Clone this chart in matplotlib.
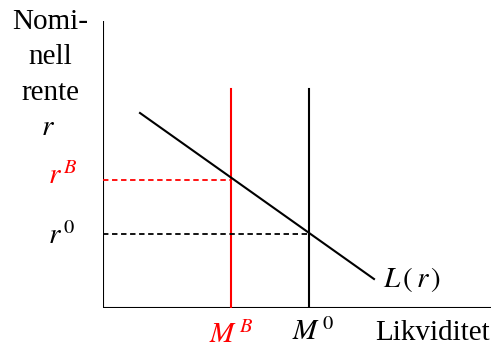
import matplotlib.pyplot as plt

plt.rcParams['font.family'] = ['Liberation Serif', 'DejaVu Serif']
plt.rcParams['mathtext.fontset'] = 'stix'

# positions in diagram units (origin at the axes corner, y upwards)
x_max, y_max = 388, 287
m_b, m_0 = 128, 206          # money supply before / after
r_b, r_0 = 128, 74           # interest rates
L_x = [37, 271]              # liquidity demand curve L(r)
L_y = [195, 29]
supply_top = 219

fig = plt.figure(figsize=(4.94, 3.49), dpi=100)
ax = fig.add_axes([103/494, 41/349, 1 - 103/494, 1 - 41/349])
ax.set_xlim(0, 391)
ax.set_ylim(0, 308)
ax.axis('off')

# axes
ax.plot([0, 0], [0, y_max], color='black', lw=1.5, solid_capstyle='butt')
ax.plot([0, x_max], [0, 0], color='black', lw=1.5, solid_capstyle='butt')

# money supply lines
ax.plot([m_b, m_b], [0, supply_top], color='red', lw=1.5)
ax.plot([m_0, m_0], [0, supply_top], color='black', lw=1.5)

# demand curve
ax.plot(L_x, L_y, color='black', lw=1.5)

# dashed guides
ax.plot([0, m_b], [r_b, r_b], color='red', lw=1.3, ls=(0, (3, 2)))
ax.plot([0, m_0], [r_0, r_0], color='black', lw=1.3, ls=(0, (3, 2)))

fs = 21
ax.text(-53, 286, 'Nomi-', fontsize=fs, ha='center', va='center', clip_on=False)
ax.text(-53, 251, 'nell', fontsize=fs, ha='center', va='center', clip_on=False)
ax.text(-53, 215, 'rente', fontsize=fs, ha='center', va='center', clip_on=False)
ax.text(-55, 180, r'$r$', fontsize=fs, ha='center', va='center', clip_on=False)

ax.text(-25, r_b + 4, r'$r^{\,B}$', fontsize=fs, color='red', ha='right', va='center', clip_on=False)
ax.text(-28, r_0 - 2, r'$r^{\,0}$', fontsize=fs, ha='right', va='center', clip_on=False)
ax.text(m_b, -13, r'$M^{\,B}$', fontsize=fs, color='red', ha='center', va='top', clip_on=False)
ax.text(m_0 + 4, -10, r'$M^{\,0}$', fontsize=fs, ha='center', va='top', clip_on=False)
ax.text(329, -25, 'Likviditet', fontsize=fs, ha='center', va='center', clip_on=False)
ax.text(280, 29, r'$L\,(\,r\,)$', fontsize=fs, ha='left', va='center', clip_on=False)

fig.savefig('out.png', dpi=100)
